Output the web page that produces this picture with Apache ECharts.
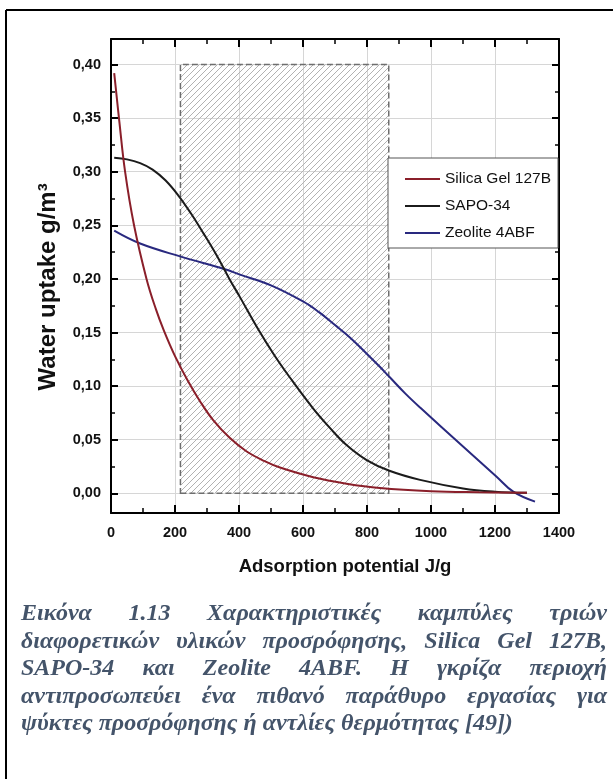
<!DOCTYPE html>
<html>
<head>
<meta charset="utf-8">
<title>Water uptake curves</title>
<script src="https://cdn.jsdelivr.net/npm/echarts@6/dist/echarts.min.js"></script>
<style>
    body { margin: 0; background: #fff; }
    #chart { width: 613px; height: 779px; }
</style>
</head>
<body>
<div id="chart"></div>
<script type="text/javascript">
    // values (x: J/g, y: g/m3)
    var silicaX = [10, 26, 44, 72, 111, 140, 165, 200, 240, 280, 320, 370, 424, 480, 528, 632, 736, 840, 1000, 1150, 1300];
    var silicaY = [0.392, 0.347, 0.300, 0.250, 0.200, 0.172, 0.152, 0.128, 0.105, 0.085, 0.068, 0.052, 0.039, 0.030, 0.024, 0.015, 0.009, 0.005, 0.002, 0.001, 0.0005];

    var sapoX = [10, 50, 91, 130, 170, 210, 250, 290, 330, 370, 403, 460, 510, 559, 632, 684, 736, 799, 870, 966, 1100, 1200, 1300];
    var sapoY = [0.313, 0.3115, 0.308, 0.302, 0.292, 0.278, 0.261, 0.242, 0.222, 0.200, 0.183, 0.153, 0.129, 0.108, 0.079, 0.061, 0.045, 0.031, 0.021, 0.0125, 0.0045, 0.0015, 0.0005];

    var zeoliteX = [10, 91, 216, 356, 403, 500, 600, 650, 700, 750, 800, 840, 872, 920, 966, 1101, 1205, 1257, 1325];
    var zeoliteY = [0.245, 0.233, 0.221, 0.209, 0.204, 0.194, 0.179, 0.169, 0.157, 0.1445, 0.130, 0.118, 0.108, 0.093, 0.080, 0.0435, 0.0155, 0.0015, -0.0078];

    // grey working window
    var windowX = [217, 868];
    var windowY = [0, 0.40];

    var seriesNames = ['Silica Gel 127B', 'SAPO-34', 'Zeolite 4ABF'];

    var captionLines = [
        'Εικόνα 1.13 Χαρακτηριστικές καμπύλες τριών',
        'διαφορετικών υλικών προσρόφησης, Silica Gel 127B,',
        'SAPO-34 και Zeolite 4ABF. Η γκρίζα περιοχή',
        'αντιπροσωπεύει ένα πιθανό παράθυρο εργασίας για',
        'ψύκτες προσρόφησης ή αντλίες θερμότητας [49])'
    ];

    function pairs(xs, ys) {
        var d = [];
        for (var i = 0; i < xs.length; i++) d.push([xs[i], ys[i]]);
        return d;
    }

    // hatch pattern for the window
    var hatch = document.createElement('canvas');
    hatch.width = 6; hatch.height = 6;
    var hc = hatch.getContext('2d');
    hc.strokeStyle = '#b2b2b2';
    hc.lineWidth = 1;
    hc.beginPath();
    hc.moveTo(0, 6); hc.lineTo(6, 0);
    hc.moveTo(-1, 1); hc.lineTo(1, -1);
    hc.moveTo(5, 7); hc.lineTo(7, 5);
    hc.stroke();

    var sans = '"Liberation Sans", Arial, sans-serif';

    // caption, justified word by word
    var capLeft = 21, capRight = 607, capMid = 614, capStep = 27.5;
    var serif = '"Liberation Serif", "Times New Roman", serif';
    var capFont = 'italic bold 24px ' + serif;
    var mctx = document.createElement('canvas').getContext('2d');
    mctx.font = capFont;

    var graphics = [
        {type: 'line', shape: {x1: 6, y1: 10, x2: 613, y2: 10}, style: {stroke: '#000', lineWidth: 2}},
        {type: 'line', shape: {x1: 6, y1: 10, x2: 6, y2: 779}, style: {stroke: '#000', lineWidth: 2}},
        {type: 'rect', z: 50, shape: {x: 388, y: 158, width: 170, height: 90},
         style: {fill: '#fff', stroke: '#555', lineWidth: 1}}
    ];
    captionLines.forEach(function (line, i) {
        var words = line.split(' ');
        var widths = words.map(function (w) { return mctx.measureText(w).width; });
        var total = widths.reduce(function (a, b) { return a + b; }, 0);
        var gap = i < captionLines.length - 1 ? (capRight - capLeft - total) / (words.length - 1) : mctx.measureText(' ').width;
        var x = capLeft;
        words.forEach(function (w, j) {
            graphics.push({
                type: 'text', x: x, y: capMid + i * capStep,
                style: {text: w, font: capFont, fill: '#44546a', verticalAlign: 'middle'}
            });
            x += widths[j] + gap;
        });
    });

    var frameLine = {show: true, onZero: false, lineStyle: {color: '#000', width: 2}};

    var chart = echarts.init(document.getElementById('chart'));
    chart.setOption({
        animation: false,
        backgroundColor: '#fff',
        grid: [
            {left: 111, right: 54, top: 39, bottom: 266, show: false},
            {left: 111, right: 54, top: 64.5, bottom: 285.7, show: false}
        ],
        legend: {
            data: seriesNames,
            orient: 'vertical',
            left: 405, top: 171,
            padding: 0,
            itemWidth: 35, itemHeight: 2, itemGap: 11,
            icon: 'rect',
            z: 60,
            textStyle: {fontFamily: sans, fontSize: 15.5, lineHeight: 16, color: '#111'}
        },
        xAxis: [
            {
                gridIndex: 0, type: 'value', min: 0, max: 1400, interval: 200, position: 'bottom',
                axisLine: frameLine,
                axisTick: {show: true, inside: true, length: 8, lineStyle: {color: '#000', width: 2}},
                minorTick: {show: true, splitNumber: 2, length: 5, lineStyle: {color: '#000', width: 1.5}},
                axisLabel: {margin: 12, fontFamily: sans, fontWeight: 'bold', fontSize: 14.5, color: '#111',
                            formatter: function (v) { return String(v); }},
                splitLine: {show: true, lineStyle: {color: '#d6d6d6', width: 1}},
                name: 'Adsorption potential J/g', nameLocation: 'middle', nameGap: 44,
                nameTextStyle: {fontFamily: sans, fontWeight: 'bold', fontSize: 18.5, color: '#111', padding: [0, 0, 0, 20]}
            },
            {
                gridIndex: 0, type: 'value', min: 0, max: 1400, interval: 200, position: 'top',
                axisLine: frameLine,
                axisTick: {show: true, inside: true, length: 8, lineStyle: {color: '#000', width: 2}},
                minorTick: {show: true, splitNumber: 2, length: 5, lineStyle: {color: '#000', width: 1.5}},
                axisLabel: {show: false},
                splitLine: {show: false}
            },
            {gridIndex: 1, type: 'value', min: 0, max: 1400, show: false}
        ],
        yAxis: [
            {gridIndex: 0, type: 'value', min: 0, max: 1, position: 'left', axisLine: frameLine,
             axisTick: {show: false}, axisLabel: {show: false}, splitLine: {show: false}},
            {gridIndex: 0, type: 'value', min: 0, max: 1, position: 'right', axisLine: frameLine,
             axisTick: {show: false}, axisLabel: {show: false}, splitLine: {show: false}},
            {
                gridIndex: 1, type: 'value', min: 0, max: 0.4, interval: 0.05, position: 'left',
                axisLine: {show: false, onZero: false},
                axisTick: {show: true, inside: true, length: 7, lineStyle: {color: '#000', width: 2}},
                minorTick: {show: true, splitNumber: 2, length: 4, lineStyle: {color: '#000', width: 1.5}},
                axisLabel: {
                    margin: 10, fontFamily: sans, fontWeight: 'bold', fontSize: 14.5, color: '#111',
                    formatter: function (v) { return v.toFixed(2).replace('.', ','); }
                },
                splitLine: {show: true, lineStyle: {color: '#d6d6d6', width: 1}},
                name: 'Water uptake g/m³', nameLocation: 'middle', nameGap: 51, nameRotate: 90,
                nameTextStyle: {fontFamily: sans, fontWeight: 'bold', fontSize: 24, color: '#111', padding: [0, 16, 0, 0]}
            },
            {
                gridIndex: 1, type: 'value', min: 0, max: 0.4, interval: 0.05, position: 'right',
                axisLine: {show: false, onZero: false},
                axisTick: {show: true, inside: true, length: 7, lineStyle: {color: '#000', width: 2}},
                minorTick: {show: true, splitNumber: 2, length: 4, lineStyle: {color: '#000', width: 1.5}},
                axisLabel: {show: false},
                splitLine: {show: false}
            }
        ],
        series: [
            {
                type: 'line', xAxisIndex: 2, yAxisIndex: 2, data: [], z: 1,
                markArea: {
                    silent: true,
                    itemStyle: {
                        color: {image: hatch, repeat: 'repeat'},
                        borderColor: '#6e6e6e', borderWidth: 1.5, borderType: 'dashed'
                    },
                    data: [[{xAxis: windowX[0], yAxis: windowY[0]}, {xAxis: windowX[1], yAxis: windowY[1]}]]
                }
            },
            {
                name: 'Zeolite 4ABF', type: 'line', xAxisIndex: 2, yAxisIndex: 2,
                data: pairs(zeoliteX, zeoliteY), smooth: 0.4, symbol: 'none', clip: false,
                itemStyle: {color: '#29297f'}, lineStyle: {color: '#29297f', width: 2}
            },
            {
                name: 'SAPO-34', type: 'line', xAxisIndex: 2, yAxisIndex: 2,
                data: pairs(sapoX, sapoY), smooth: 0.4, symbol: 'none', clip: false,
                itemStyle: {color: '#1b1b1b'}, lineStyle: {color: '#1b1b1b', width: 2}
            },
            {
                name: 'Silica Gel 127B', type: 'line', xAxisIndex: 2, yAxisIndex: 2,
                data: pairs(silicaX, silicaY), smooth: 0.4, symbol: 'none', clip: false,
                itemStyle: {color: '#8a1f2a'}, lineStyle: {color: '#8a1f2a', width: 2}
            }
        ],
        graphic: graphics
    });
</script>
</body>
</html>
